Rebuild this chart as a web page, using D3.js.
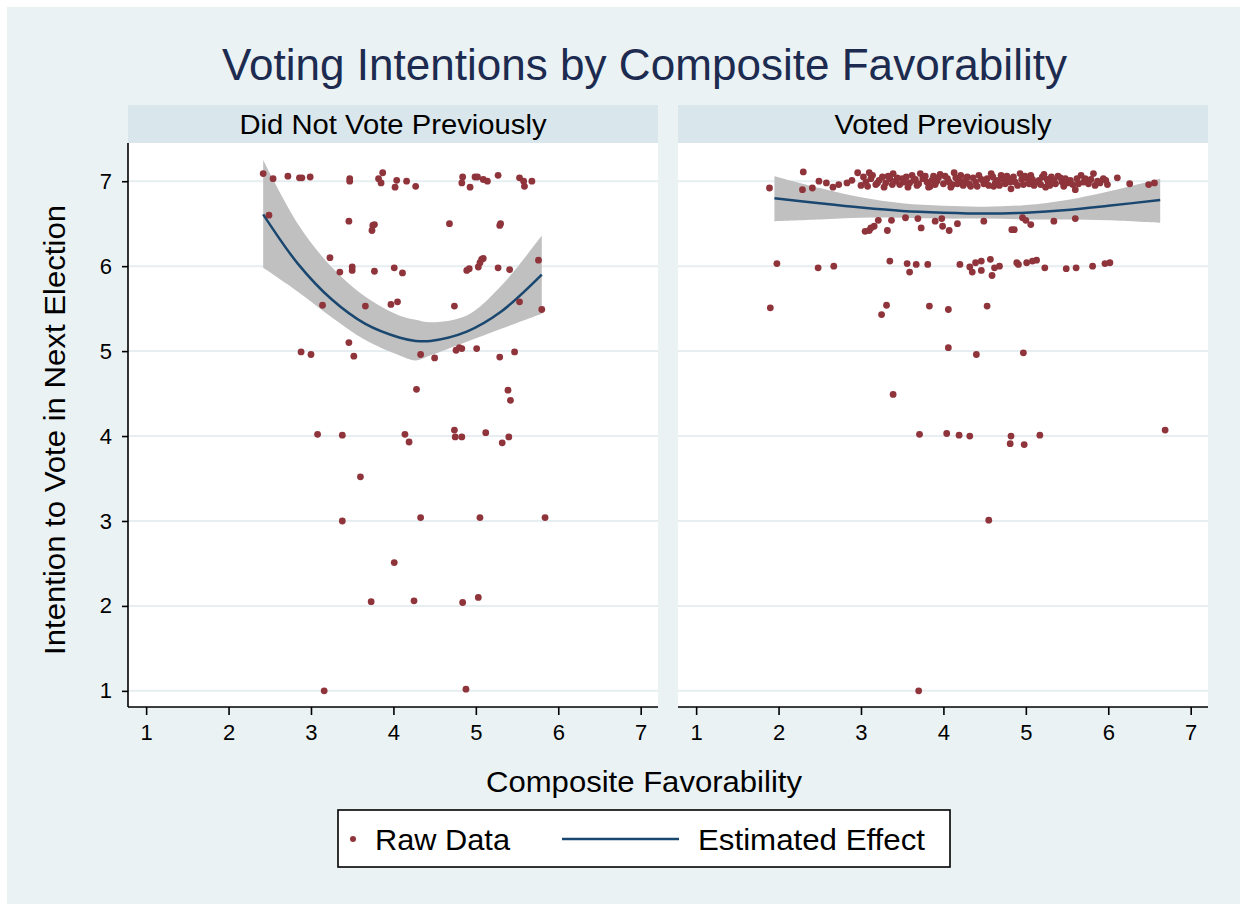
<!DOCTYPE html>
<html><head><meta charset="utf-8">
<script src="https://cdn.jsdelivr.net/npm/d3@7"></script>
<style>body{margin:0;background:#fff;} text{font-family:"Liberation Sans",Arial,Helvetica,sans-serif;}</style>
</head><body><svg id="c" width="1244" height="907"></svg>
<script>
const title = "Voting Intentions by Composite Favorability";
const panelTitles = ["Did Not Vote Previously", "Voted Previously"];
const xTitle = "Composite Favorability";
const yTitle = "Intention to Vote in Next Election";
const ticks = [1,2,3,4,5,6,7];
const legendLabels = ["Raw Data", "Estimated Effect"];

// Did Not Vote Previously: raw data [favorability, intention]
const leftPoints = [
[2.42,7.09],[2.54,7.03],[2.72,7.06],[2.86,7.04],[2.89,7.04],[2.99,7.05],[3.47,7.03],[3.47,7.00],[3.87,7.10],[3.82,7.03],
[3.85,6.98],[4.04,7.01],[4.02,6.93],[4.16,7.00],[4.27,6.94],[4.84,7.05],[4.83,6.98],[4.93,6.93],[4.99,7.05],[5.02,7.05],
[5.09,7.02],[5.14,7.00],[5.27,7.07],[5.53,7.04],[5.58,7.00],[5.59,6.94],[5.68,7.00],
[2.49,6.60],[3.46,6.53],[3.75,6.48],[3.77,6.49],[3.74,6.42],[4.68,6.50],[5.30,6.50],[5.29,6.48],
[3.23,6.10],[3.35,5.93],[3.50,5.99],[3.50,5.95],[3.77,5.94],[4.01,5.98],[4.11,5.92],[4.89,5.95],[4.92,5.97],[5.03,5.99],
[5.05,6.04],[5.07,6.08],[5.09,6.09],[5.27,5.98],[5.41,5.96],[5.76,6.07],
[3.14,5.54],[3.66,5.53],[3.97,5.55],[4.05,5.58],[4.74,5.53],[5.53,5.58],[5.80,5.49],
[3.46,5.10],[2.88,4.99],[3.00,4.96],[3.52,4.94],[4.33,4.96],[4.50,4.92],[4.76,5.01],[4.80,5.04],[4.83,5.03],[5.01,5.03],
[5.29,4.93],[5.47,4.99],[4.28,4.55],[5.39,4.54],[5.42,4.42],
[3.08,4.02],[3.38,4.01],[4.14,4.02],[4.19,3.93],[4.74,4.07],[4.75,3.99],[4.83,3.99],[5.12,4.04],[5.32,3.92],[5.40,3.99],
[3.60,3.52],[3.38,3.00],[4.33,3.04],[5.05,3.04],[5.84,3.04],[4.01,2.51],[3.73,2.05],[4.25,2.06],[4.84,2.04],[5.03,2.10],
[3.16,1.00],[4.88,1.02]
];
// Did Not Vote Previously: quadratic fit with confidence band
const leftFitX  = [2.42,2.84,3.25,3.66,4.07,4.27,4.45,4.89,5.30,5.80];
const leftFit   = [6.61,6.03,5.61,5.32,5.16,5.12,5.12,5.23,5.46,5.90];
const leftHi    = [7.25,6.50,5.99,5.64,5.42,5.37,5.34,5.42,5.76,6.36];
const leftLo    = [5.98,5.70,5.40,5.13,4.95,4.89,4.95,5.11,5.26,5.44];

// Voted Previously: raw data
const rightPoints = [
[1.89,6.92],[2.29,6.90],[2.30,7.11],[2.41,6.92],[2.49,7.00],[2.58,6.98],[2.66,6.93],[2.73,6.96],[2.83,6.98],[2.89,7.01],
[2.96,7.10],[3.00,6.95],[3.06,6.99],[3.10,7.10],[3.12,7.03],[3.18,6.96],[3.22,7.01],[3.26,7.05],[3.30,6.98],[3.35,7.03],
[3.39,7.09],[3.42,7.00],[3.47,6.96],[3.50,7.03],[3.55,7.05],[3.59,6.98],[3.64,7.01],[3.68,6.95],[3.72,7.09],[3.75,7.03],
[3.80,6.99],[3.84,6.94],[3.88,7.06],[3.92,7.00],[3.96,7.08],[4.00,6.97],[4.05,7.03],[4.11,6.96],[4.13,7.10],[4.19,7.01],
[4.24,6.95],[4.28,7.04],[4.23,6.99],[4.29,7.05],[4.33,6.94],[4.39,6.99],[4.43,7.07],[4.49,6.97],[4.53,7.03],[4.58,7.09],
[4.61,6.94],[4.66,7.01],[4.70,7.07],[4.75,6.97],[4.79,7.03],[4.82,6.91],[4.87,6.99],[4.93,7.09],[4.97,6.96],[5.02,7.03],
[5.06,7.07],[5.10,6.95],[5.16,7.01],[5.20,7.05],[5.24,6.93],[5.27,6.99],[5.31,7.05],[5.36,6.97],[5.42,7.04],[5.46,6.94],
[5.51,6.98],[5.54,7.01],[5.60,6.90],[5.64,6.97],[5.67,7.07],[5.72,7.03],[5.76,6.97],[5.82,7.09],[5.84,6.95],[5.90,6.98],
[5.94,7.03],[5.99,6.96],[6.11,7.04],[6.26,6.97],[6.49,6.96],[6.56,6.98],
[3.03,7.05],[3.08,6.94],[3.14,7.07],[3.20,6.98],[3.28,6.93],[3.33,7.06],[3.38,6.96],[3.44,7.04],[3.52,6.99],[3.57,6.93],
[3.62,7.07],[3.66,7.02],[3.70,6.97],[3.78,7.06],[3.82,6.93],[3.86,7.01],[3.90,6.96],[3.94,7.04],[4.02,7.06],[4.07,6.99],
[4.09,6.93],[4.15,7.04],[4.17,6.97],[4.21,7.07],[4.26,7.00],[4.31,6.97],[4.36,7.04],[4.41,6.94],[4.46,7.02],[4.51,6.99],
[4.55,6.95],[4.60,7.05],[4.63,6.98],[4.68,6.95],[4.72,7.02],[4.77,7.06],[4.81,6.99],[4.85,7.05],[4.90,6.95],[4.95,7.02],
[4.99,7.06],[5.04,6.97],[5.08,7.02],[5.13,6.99],[5.18,6.96],[5.22,7.08],[5.26,7.02],[5.29,6.95],[5.34,7.01],[5.39,7.06],
[5.44,6.99],[5.48,7.03],[5.57,6.96],[5.62,7.03],[5.70,6.99],[5.79,7.02],[5.87,7.00],[5.97,7.01],
[3.05,6.41],[3.10,6.42],[3.12,6.45],[3.16,6.47],[3.21,6.54],[3.32,6.42],[3.37,6.54],[3.54,6.57],[3.69,6.56],[3.73,6.45],
[3.90,6.53],[3.98,6.56],[3.99,6.47],[4.07,6.42],[4.17,6.50],[4.49,6.53],[4.83,6.43],[4.86,6.43],[4.96,6.57],[5.00,6.54],
[5.06,6.49],[5.34,6.53],[5.60,6.56],
[1.98,6.03],[2.48,5.98],[2.67,6.00],[3.35,6.06],[3.56,6.03],[3.67,6.02],[3.59,5.93],[3.81,6.02],[4.20,6.02],[4.32,5.99],
[4.35,5.93],[4.39,6.04],[4.46,6.06],[4.46,5.95],[4.57,6.08],[4.59,5.89],[4.62,5.98],[4.68,6.00],[4.89,6.04],[4.91,6.02],
[5.01,6.04],[5.08,6.06],[5.13,6.07],[5.23,5.98],[5.49,5.97],[5.61,5.98],[5.81,6.00],[5.96,6.03],[6.02,6.04],
[1.90,5.51],[3.31,5.54],[3.25,5.43],[3.83,5.53],[4.06,5.49],[4.53,5.53],
[4.06,5.04],[4.40,4.96],[4.97,4.98],[3.39,4.49],
[3.71,4.02],[4.04,4.03],[4.19,4.01],[4.32,4.00],[4.82,4.00],[4.81,3.91],[4.98,3.90],[5.17,4.01],[6.69,4.07],
[4.55,3.01],[3.70,1.00]
];
const rightFitX = [1.95,2.50,3.00,3.50,4.00,4.50,5.00,5.50,6.00,6.63];
const rightFit  = [6.80,6.74,6.69,6.65,6.63,6.62,6.63,6.66,6.71,6.78];
const rightHi   = [7.06,6.92,6.81,6.74,6.71,6.70,6.72,6.78,6.88,7.03];
const rightLo   = [6.53,6.55,6.57,6.57,6.56,6.56,6.55,6.55,6.54,6.51];

const C = {bg:"#eaf2f3", strip:"#d9e6eb", grid:"#e6eef1", pt:"#8f343b", line:"#1a476f", band:"#c0c0c0", title:"#1c2b4f"};
const svg = d3.select("#c");
svg.append("rect").attr("x",7).attr("y",7).attr("width",1233).attr("height",897).attr("fill",C.bg);

svg.append("text").attr("x",644.5).attr("y",80).attr("text-anchor","middle")
  .attr("font-size",44).attr("fill",C.title).attr("textLength",845).attr("lengthAdjust","spacingAndGlyphs").text(title);

const y = d3.scaleLinear().domain([0.81,7.45]).range([707,143]);
const panels = [
  {x0:128, x1:658, pts:leftPoints, fx:leftFitX, f:leftFit, hi:leftHi, lo:leftLo, t:panelTitles[0], tw:307, yaxis:true},
  {x0:678, x1:1208, pts:rightPoints, fx:rightFitX, f:rightFit, hi:rightHi, lo:rightLo, t:panelTitles[1], tw:217, yaxis:false}
];
panels.forEach(p => {
  const x = d3.scaleLinear().domain([0.78,7.21]).range([p.x0,p.x1]);
  const g = svg.append("g");
  g.append("rect").attr("x",p.x0).attr("y",105).attr("width",p.x1-p.x0).attr("height",38).attr("fill",C.strip);
  g.append("text").attr("x",(p.x0+p.x1)/2).attr("y",133.5).attr("text-anchor","middle").attr("font-size",27)
    .attr("textLength",p.tw).attr("lengthAdjust","spacingAndGlyphs").text(p.t);
  g.append("rect").attr("x",p.x0).attr("y",143).attr("width",p.x1-p.x0).attr("height",564).attr("fill","#fff");
  g.selectAll(".grid").data(ticks).join("line").attr("x1",p.x0).attr("x2",p.x1)
    .attr("y1",d=>y(d)).attr("y2",d=>y(d)).attr("stroke",C.grid).attr("stroke-width",2);
  const idx = d3.range(p.fx.length);
  g.append("path").datum(idx).attr("fill",C.band)
    .attr("d", d3.area().x(i=>x(p.fx[i])).y0(i=>y(p.lo[i])).y1(i=>y(p.hi[i])).curve(d3.curveCatmullRom));
  g.append("path").datum(idx).attr("fill","none").attr("stroke",C.line).attr("stroke-width",2.5)
    .attr("d", d3.line().x(i=>x(p.fx[i])).y(i=>y(p.f[i])).curve(d3.curveCatmullRom));
  g.selectAll(".pt").data(p.pts).join("circle").attr("cx",d=>x(d[0])).attr("cy",d=>y(d[1]))
    .attr("r",3.4).attr("fill",C.pt);
  const xa = g.append("g").attr("transform","translate(0,707)")
    .call(d3.axisBottom(x).tickValues(ticks).tickSize(8).tickPadding(9).tickFormat(d3.format("d")));
  xa.select(".domain").attr("d",`M${p.x0},0H${p.x1}`).attr("stroke","#000").attr("stroke-width",1.6);
  xa.selectAll(".tick line").attr("stroke","#000").attr("stroke-width",1.6);
  xa.selectAll("text").attr("font-size",22).attr("fill","#000").attr("font-family","Liberation Sans, Arial, sans-serif");
  if (p.yaxis) {
    const ya = g.append("g").attr("transform",`translate(${p.x0},0)`)
      .call(d3.axisLeft(y).tickValues(ticks).tickSize(6).tickPadding(10).tickFormat(d3.format("d")));
    ya.select(".domain").attr("d","M0,143V707").attr("stroke","#000").attr("stroke-width",1.6);
    ya.selectAll(".tick line").attr("stroke","#000").attr("stroke-width",1.6);
    ya.selectAll("text").attr("font-size",22).attr("fill","#000").attr("font-family","Liberation Sans, Arial, sans-serif");
  }
});

svg.append("text").attr("x",644).attr("y",792).attr("text-anchor","middle").attr("font-size",29)
  .attr("textLength",316).attr("lengthAdjust","spacingAndGlyphs").text(xTitle);
svg.append("text").attr("transform","translate(65,430) rotate(-90)").attr("text-anchor","middle").attr("font-size",29)
  .attr("textLength",450).attr("lengthAdjust","spacingAndGlyphs").text(yTitle);

const lg = svg.append("g");
lg.append("rect").attr("x",338).attr("y",810).attr("width",612).attr("height",57).attr("fill","#fff").attr("stroke","#000").attr("stroke-width",1.6);
lg.append("circle").attr("cx",353).attr("cy",839).attr("r",3).attr("fill",C.pt);
lg.append("text").attr("x",375).attr("y",850).attr("font-size",29).attr("textLength",135).attr("lengthAdjust","spacingAndGlyphs").text(legendLabels[0]);
lg.append("line").attr("x1",562).attr("x2",679).attr("y1",839).attr("y2",839).attr("stroke",C.line).attr("stroke-width",2.5);
lg.append("text").attr("x",698).attr("y",850).attr("font-size",29).attr("textLength",227).attr("lengthAdjust","spacingAndGlyphs").text(legendLabels[1]);
</script></body></html>
